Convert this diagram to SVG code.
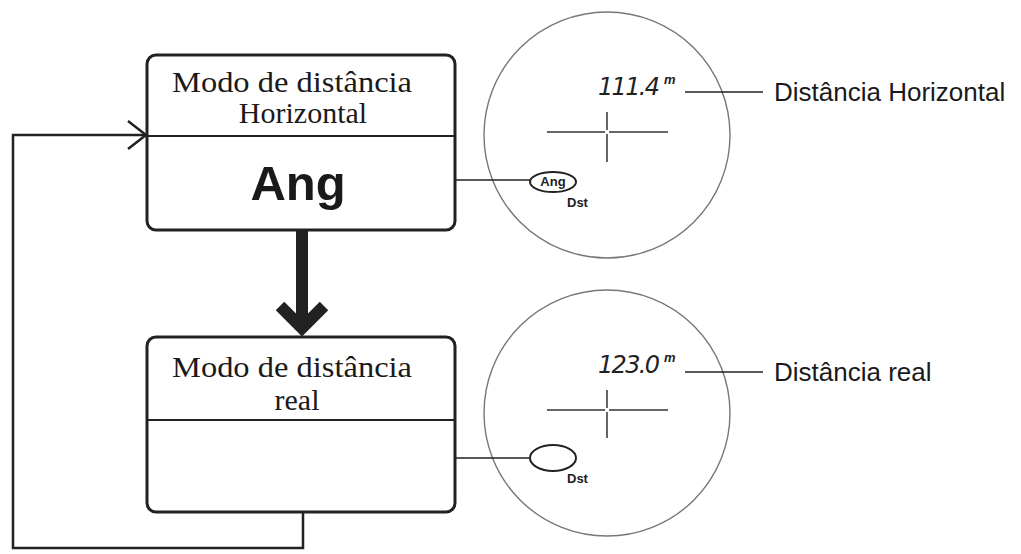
<svg xmlns="http://www.w3.org/2000/svg" width="1021" height="554" viewBox="0 0 1021 554">
<style>
.box{fill:#fff;stroke:#222;stroke-width:3}
.div{stroke:#222;stroke-width:2}
.serif{font-family:"Liberation Serif",serif;font-size:30px;fill:#1a1a1a}
.conn{fill:none;stroke:#222;stroke-width:2.5}
.lead{fill:none;stroke:#222;stroke-width:1.6}
.scope{fill:none;stroke:#777;stroke-width:1.4}
.cross{stroke:#333;stroke-width:1.5}
.lcd{font-family:"DejaVu Sans",sans-serif;font-style:italic;font-weight:300;font-size:24px;fill:#222}
.sup{font-family:"Liberation Sans",sans-serif;font-style:italic;font-weight:bold;font-size:13px;fill:#222}
.label{font-family:"Liberation Sans",sans-serif;font-size:26px;fill:#1a1a1a}
.small{font-family:"Liberation Sans",sans-serif;font-weight:bold;font-size:13px;fill:#222}
.oval{fill:#fff;stroke:#222;stroke-width:2}
</style>
<g id="scope-horizontal">
<circle class="scope" cx="607" cy="135" r="123"/>
<line class="cross" x1="547" y1="132" x2="605" y2="132"/>
<line class="cross" x1="609" y1="132" x2="668" y2="132"/>
<line class="cross" x1="607" y1="112" x2="607" y2="130"/>
<line class="cross" x1="607" y1="134" x2="607" y2="162"/>
<text class="lcd" x="598" y="95" textLength="62" lengthAdjust="spacing">111.4</text>
<text class="sup" x="664" y="84">m</text>
</g>
<g id="scope-real">
<circle class="scope" cx="607" cy="413" r="123"/>
<line class="cross" x1="547" y1="410" x2="605" y2="410"/>
<line class="cross" x1="609" y1="410" x2="668" y2="410"/>
<line class="cross" x1="607" y1="390" x2="607" y2="408"/>
<line class="cross" x1="607" y1="412" x2="607" y2="438"/>
<text class="lcd" x="598" y="373" textLength="62" lengthAdjust="spacing">123.0</text>
<text class="sup" x="664" y="362">m</text>
</g>
<g id="connectors">
<polyline class="conn" points="303,512 303,548 13,548 13,135 145,135"/>
<polyline class="conn" points="128,121 146,135 128,149"/>
<line x1="302" y1="230" x2="302" y2="326" stroke="#222" stroke-width="12"/>
<polyline points="280,306 302,328 324,306" fill="none" stroke="#222" stroke-width="12"/>
<line class="lead" x1="455" y1="180" x2="531" y2="180"/>
<line class="lead" x1="455" y1="458" x2="531" y2="458"/>
<line class="lead" x1="685" y1="92" x2="763" y2="92"/>
<line class="lead" x1="685" y1="372" x2="763" y2="372"/>
</g>
<g id="node-horizontal">
<rect class="box" x="147" y="55" width="308" height="175" rx="9"/>
<line class="div" x1="147" y1="136" x2="455" y2="136"/>
<text class="serif" x="292" y="92" text-anchor="middle" textLength="240" lengthAdjust="spacingAndGlyphs">Modo de distância</text>
<text class="serif" x="303" y="123" text-anchor="middle">Horizontal</text>
<text x="298" y="200" text-anchor="middle" font-family="Liberation Sans,sans-serif" font-weight="bold" font-size="49" fill="#1a1a1a">Ang</text>
</g>
<g id="node-real">
<rect class="box" x="147" y="337" width="308" height="175" rx="9"/>
<line class="div" x1="147" y1="420" x2="455" y2="420"/>
<text class="serif" x="292" y="377" text-anchor="middle" textLength="240" lengthAdjust="spacingAndGlyphs">Modo de distância</text>
<text class="serif" x="297" y="410" text-anchor="middle">real</text>
</g>
<g id="oval-ang">
<ellipse class="oval" cx="553" cy="182" rx="23" ry="10"/>
<text class="small" x="553" y="186" text-anchor="middle" font-size="11">Ang</text>
<text class="small" x="567" y="207">Dst</text>
</g>
<g id="oval-dst">
<ellipse class="oval" cx="553" cy="458" rx="23" ry="13"/>
<text class="small" x="567" y="483">Dst</text>
</g>
<g id="label-horizontal">
<text class="label" x="774" y="101">Distância Horizontal</text>
</g>
<g id="label-real">
<text class="label" x="774" y="381">Distância real</text>
</g>
</svg>
